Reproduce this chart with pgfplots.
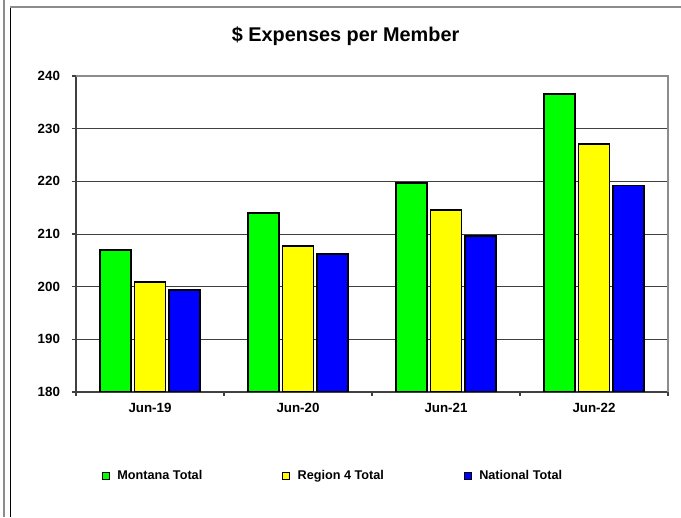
\documentclass[border=0pt]{standalone}
\usepackage{pgfplots}
\pgfplotsset{compat=1.18}
\usepackage{fontspec}
\setmainfont{Liberation Sans}
\definecolor{cgreen}{HTML}{00FF00}
\definecolor{cyellow}{HTML}{FFFF00}
\definecolor{cblue}{HTML}{0000FF}
\definecolor{axiscol}{HTML}{404040}
\definecolor{framecol}{HTML}{8C8C8C}
\begin{document}
\begin{tikzpicture}
\path[use as bounding box] (0pt,0pt) rectangle (510.75pt,387.75pt);
\draw[framecol, line width=1.5pt] (3pt,0pt) -- (3pt,387.75pt);
\draw[black, line width=0.9pt] (7.875pt,0pt) -- (7.875pt,382.5pt);
\draw[framecol, line width=1.5pt] (7.5pt,382.5pt) -- (510.75pt,382.5pt);
\node[font=\bfseries\fontsize{14.9}{17}\selectfont] at (259.2pt,360.5pt) {\$ Expenses per Member};
\begin{axis}[
  at={(57pt,93.75pt)}, anchor=south west,
  width=444pt, height=237pt, scale only axis,
  ybar=2.6pt, bar width=23.25pt,
  xmin=-0.5, xmax=3.5, ymin=180, ymax=240,
  xtick={0,1,2,3}, xticklabels={Jun-19,Jun-20,Jun-21,Jun-22},
  minor xtick={-0.5,0.5,1.5,2.5,3.5},
  ytick={180,190,...,240},
  axis x line*=bottom, axis y line*=left,
  axis line style={-, axiscol, line width=0.8pt},
  tick align=outside,
  major tick length=3pt, minor tick length=3pt,
  major x tick style={draw=none},
  minor x tick style={axiscol, line width=0.8pt},
  ytick style={axiscol, line width=0.8pt},
  ymajorgrids, grid style={axiscol, line width=0.75pt},
  /pgf/number format/assume math mode=true,
  ticklabel style={font=\bfseries\fontsize{10}{12}\selectfont},
  yticklabel style={xshift=-5.5pt},
  xticklabel style={yshift=-1.5pt},
  legend columns=3,
  legend style={draw=none, fill=none, inner sep=0pt, outer sep=0pt,
    at={(axis description cs:0.044,-0.266)}, anchor=west,
    font=\bfseries\fontsize{9.5}{11}\selectfont,
    nodes={inner sep=0pt},
    /tikz/every odd column/.append style={column sep=5.6pt},
    /tikz/every even column/.append style={column sep=60pt}},
  legend image code/.code={\draw[#1, draw=black, line width=0.9pt] (0pt,-2.5pt) rectangle (5pt,2.5pt);},
  after end axis/.code={\draw[framecol, line width=0.8pt] (rel axis cs:0,1) -- (rel axis cs:1,1) -- (rel axis cs:1,0);},
]
\addplot[fill=cgreen, draw=black, line width=1.4pt] coordinates {(0,207.0) (1,214.0) (2,219.7) (3,236.6)};
\addplot[fill=cyellow, draw=black, line width=1.4pt] coordinates {(0,200.9) (1,207.7) (2,214.6) (3,227.1)};
\addplot[fill=cblue, draw=black, line width=1.4pt] coordinates {(0,199.4) (1,206.2) (2,209.6) (3,219.2)};
\legend{Montana Total, Region 4 Total, National Total}
\end{axis}
\end{tikzpicture}
\end{document}
